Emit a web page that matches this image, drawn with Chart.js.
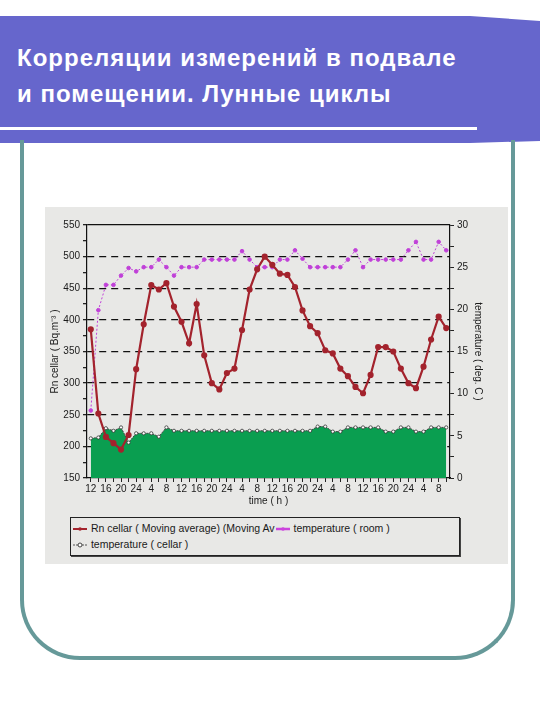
<!DOCTYPE html>
<html>
<head>
<meta charset="utf-8">
<script src="https://cdn.jsdelivr.net/npm/chart.js@4"></script>
<style>
  body { margin: 0; width: 540px; height: 720px; background: #fff; position: relative; overflow: hidden; font-family: 'Liberation Sans', Arial, sans-serif; }
  #band { position: absolute; left: 0; top: 0; }
  #title { position: absolute; left: 17px; top: 40px; color: #fff; font-weight: bold; font-size: 24px; line-height: 36px; letter-spacing: 1px; white-space: nowrap; }
  #frame { position: absolute; left: 20px; top: 140px; width: 487px; height: 516px; border: 4px solid #669999; border-top: none; border-radius: 0 0 60px 60px; }
  #scan { position: absolute; left: 45px; top: 207px; width: 463px; height: 357px; background: #e8e8e6; }
  #chart { position: absolute; left: 45px; top: 208px; }
  #legend { position: absolute; left: 70px; top: 517px; width: 388px; height: 37px; border: 1px solid #222; box-shadow: 1px 1px 0 #444; font-size: 10.5px; color: #1a1a1a; }
  .row { position: absolute; left: 1px; white-space: nowrap; }
  .row svg { vertical-align: middle; }
</style>
</head>
<body>
<svg id="band" width="540" height="150">
  <polygon points="0,16 470,16 540,21 540,141 470,143 0,143" fill="#6666cc"/>
  <rect x="0" y="127" width="477" height="3" fill="#fff"/>
</svg>
<div id="title">Корреляции измерений в подвале<br>и помещении. Лунные циклы</div>
<div id="frame"></div>
<div id="scan"></div>
<canvas id="chart" width="460" height="300"></canvas>
<div id="legend">
  <div class="row" style="top:4px">
    <svg width="16" height="8"><line x1="1" y1="4" x2="15" y2="4" stroke="#a3232d" stroke-width="2"/><circle cx="8" cy="4" r="1.8" fill="#a3232d"/></svg>
    Rn cellar ( Moving average) (Moving Av<svg width="16" height="8"><line x1="1" y1="4" x2="15" y2="4" stroke="#cc44dd" stroke-width="2.5"/><circle cx="8" cy="4" r="1.8" fill="#cc44dd"/></svg>
    temperature ( room )
  </div>
  <div class="row" style="top:20px">
    <svg width="16" height="8"><line x1="1" y1="4" x2="15" y2="4" stroke="#555" stroke-width="1" stroke-dasharray="2,1"/><circle cx="8" cy="4" r="2" fill="#fff" stroke="#444"/></svg>
    temperature ( cellar )
  </div>
</div>
<script>
// time axis: a reading every 2 hours, labelled every 4
let hours = [12, 14, 16, 18, 20, 22, 24, 2, 4, 6, 8, 10,
             12, 14, 16, 18, 20, 22, 24, 2, 4, 6, 8, 10,
             12, 14, 16, 18, 20, 22, 24, 2, 4, 6, 8, 10,
             12, 14, 16, 18, 20, 22, 24, 2, 4, 6, 8, 10]

// Rn cellar, Bq/m3 (left axis)
let rnCellar = [385, 252, 215, 205, 195, 218, 322, 393, 455, 448, 458, 421,
                397, 363, 425, 344, 300, 290, 316, 323, 384, 448, 480, 500,
                487, 473, 471, 452, 415, 390, 379, 352, 347, 323, 311, 294,
                284, 313, 357, 357, 350, 323, 300, 292, 326, 369, 405, 387]

// temperature room, deg C (right axis)
let tempRoom = [8.0, 19.9, 22.9, 22.9, 24.0, 24.9, 24.5, 25.0, 25.0, 25.9, 25.0, 24.0,
                25.0, 25.0, 25.0, 25.9, 25.9, 25.9, 25.9, 25.9, 26.9, 25.9, 25.0, 25.0,
                25.0, 25.9, 25.9, 27.0, 26.0, 25.0, 25.0, 25.0, 25.0, 25.0, 25.9, 27.0,
                25.0, 25.9, 25.9, 25.9, 25.9, 25.9, 27.0, 28.0, 25.9, 25.9, 28.0, 27.0]

// temperature cellar, deg C (right axis)
let tempCellar = [4.7, 4.8, 5.9, 5.6, 6.0, 4.2, 5.3, 5.3, 5.3, 4.9, 6.0, 5.6,
                  5.6, 5.6, 5.6, 5.6, 5.6, 5.6, 5.6, 5.6, 5.6, 5.6, 5.6, 5.6,
                  5.6, 5.6, 5.6, 5.6, 5.6, 5.6, 6.1, 6.1, 5.5, 5.5, 6.0, 6.0,
                  6.0, 6.0, 6.0, 5.5, 5.5, 6.0, 6.0, 5.5, 5.5, 6.0, 6.0, 6.0]

let tickFont = { family: 'Liberation Sans', size: 10 }

let ctx = document.querySelector('#chart').getContext('2d')

new Chart(ctx, {
    type: 'line',
    data: {
        labels: hours,
        datasets: [
            {
                label: 'Rn cellar ( Moving average) (Moving Av',
                data: rnCellar,
                yAxisID: 'y',
                borderColor: '#a3232d',
                backgroundColor: '#a3232d',
                borderWidth: 2.2,
                pointRadius: 2,
                tension: 0
            },
            {
                label: 'temperature ( room )',
                data: tempRoom,
                yAxisID: 'y1',
                borderColor: '#c040d8',
                backgroundColor: '#c040d8',
                borderWidth: 1,
                borderDash: [2, 2],
                pointRadius: 1.8,
                tension: 0
            },
            {
                label: 'temperature ( cellar )',
                data: tempCellar,
                yAxisID: 'y1',
                borderColor: '#444',
                backgroundColor: '#0a9e50',
                borderWidth: 1,
                borderDash: [2, 1],
                pointRadius: 1.6,
                pointBackgroundColor: '#fff',
                pointBorderColor: '#333',
                pointBorderWidth: 0.8,
                fill: 'origin',
                tension: 0
            }
        ]
    },
    options: {
        responsive: false,
        animation: false,
        layout: { padding: { top: 17 } },
        plugins: { legend: { display: false }, tooltip: { enabled: false } },
        scales: {
            x: {
                offset: true,
                afterFit: s => { s.height = 30 },
                grid: { drawOnChartArea: false, tickLength: 4, tickColor: '#222' },
                border: { color: '#111', width: 1.2 },
                ticks: {
                    autoSkip: false, maxRotation: 0, padding: 1,
                    font: tickFont, color: '#1a1a1a',
                    callback: (v, i) => i % 2 === 0 ? hours[i] : ''
                },
                title: { display: true, text: 'time ( h )', font: tickFont, color: '#1a1a1a', padding: { top: 0, bottom: 1 } }
            },
            y: {
                position: 'left',
                min: 150, max: 550,
                afterFit: s => { s.width = 42 },
                grid: {
                    tickLength: 4, tickColor: '#222', lineWidth: 1.3,
                    color: c => (c.tick && c.tick.value % 50 === 0 && c.tick.value > 150) ? '#111' : 'transparent'
                },
                border: {
                    color: '#111', width: 1.2,
                    dash: c => (c.tick && c.tick.value === 550) ? [] : [7, 5]
                },
                ticks: {
                    stepSize: 25, padding: 3,
                    font: tickFont, color: '#1a1a1a',
                    callback: v => v % 50 === 0 ? v : ''
                },
                title: { display: true, text: 'Rn cellar ( Bq.m⁻³ )', font: tickFont, color: '#1a1a1a', padding: { top: 4, bottom: 0 } }
            },
            y1: {
                position: 'right',
                min: 0, max: 30,
                afterFit: s => { s.width = 55 },
                grid: { drawOnChartArea: false, tickLength: 4, tickColor: '#222' },
                border: { color: '#111', width: 1.2 },
                ticks: {
                    stepSize: 2.5, padding: 3,
                    font: tickFont, color: '#1a1a1a',
                    callback: v => v % 5 === 0 ? v : ''
                },
                title: { display: true, text: 'temperature ( deg. C )', font: tickFont, color: '#1a1a1a', padding: { top: 21, bottom: 0 } }
            }
        }
    }
})
</script>
</body>
</html>
